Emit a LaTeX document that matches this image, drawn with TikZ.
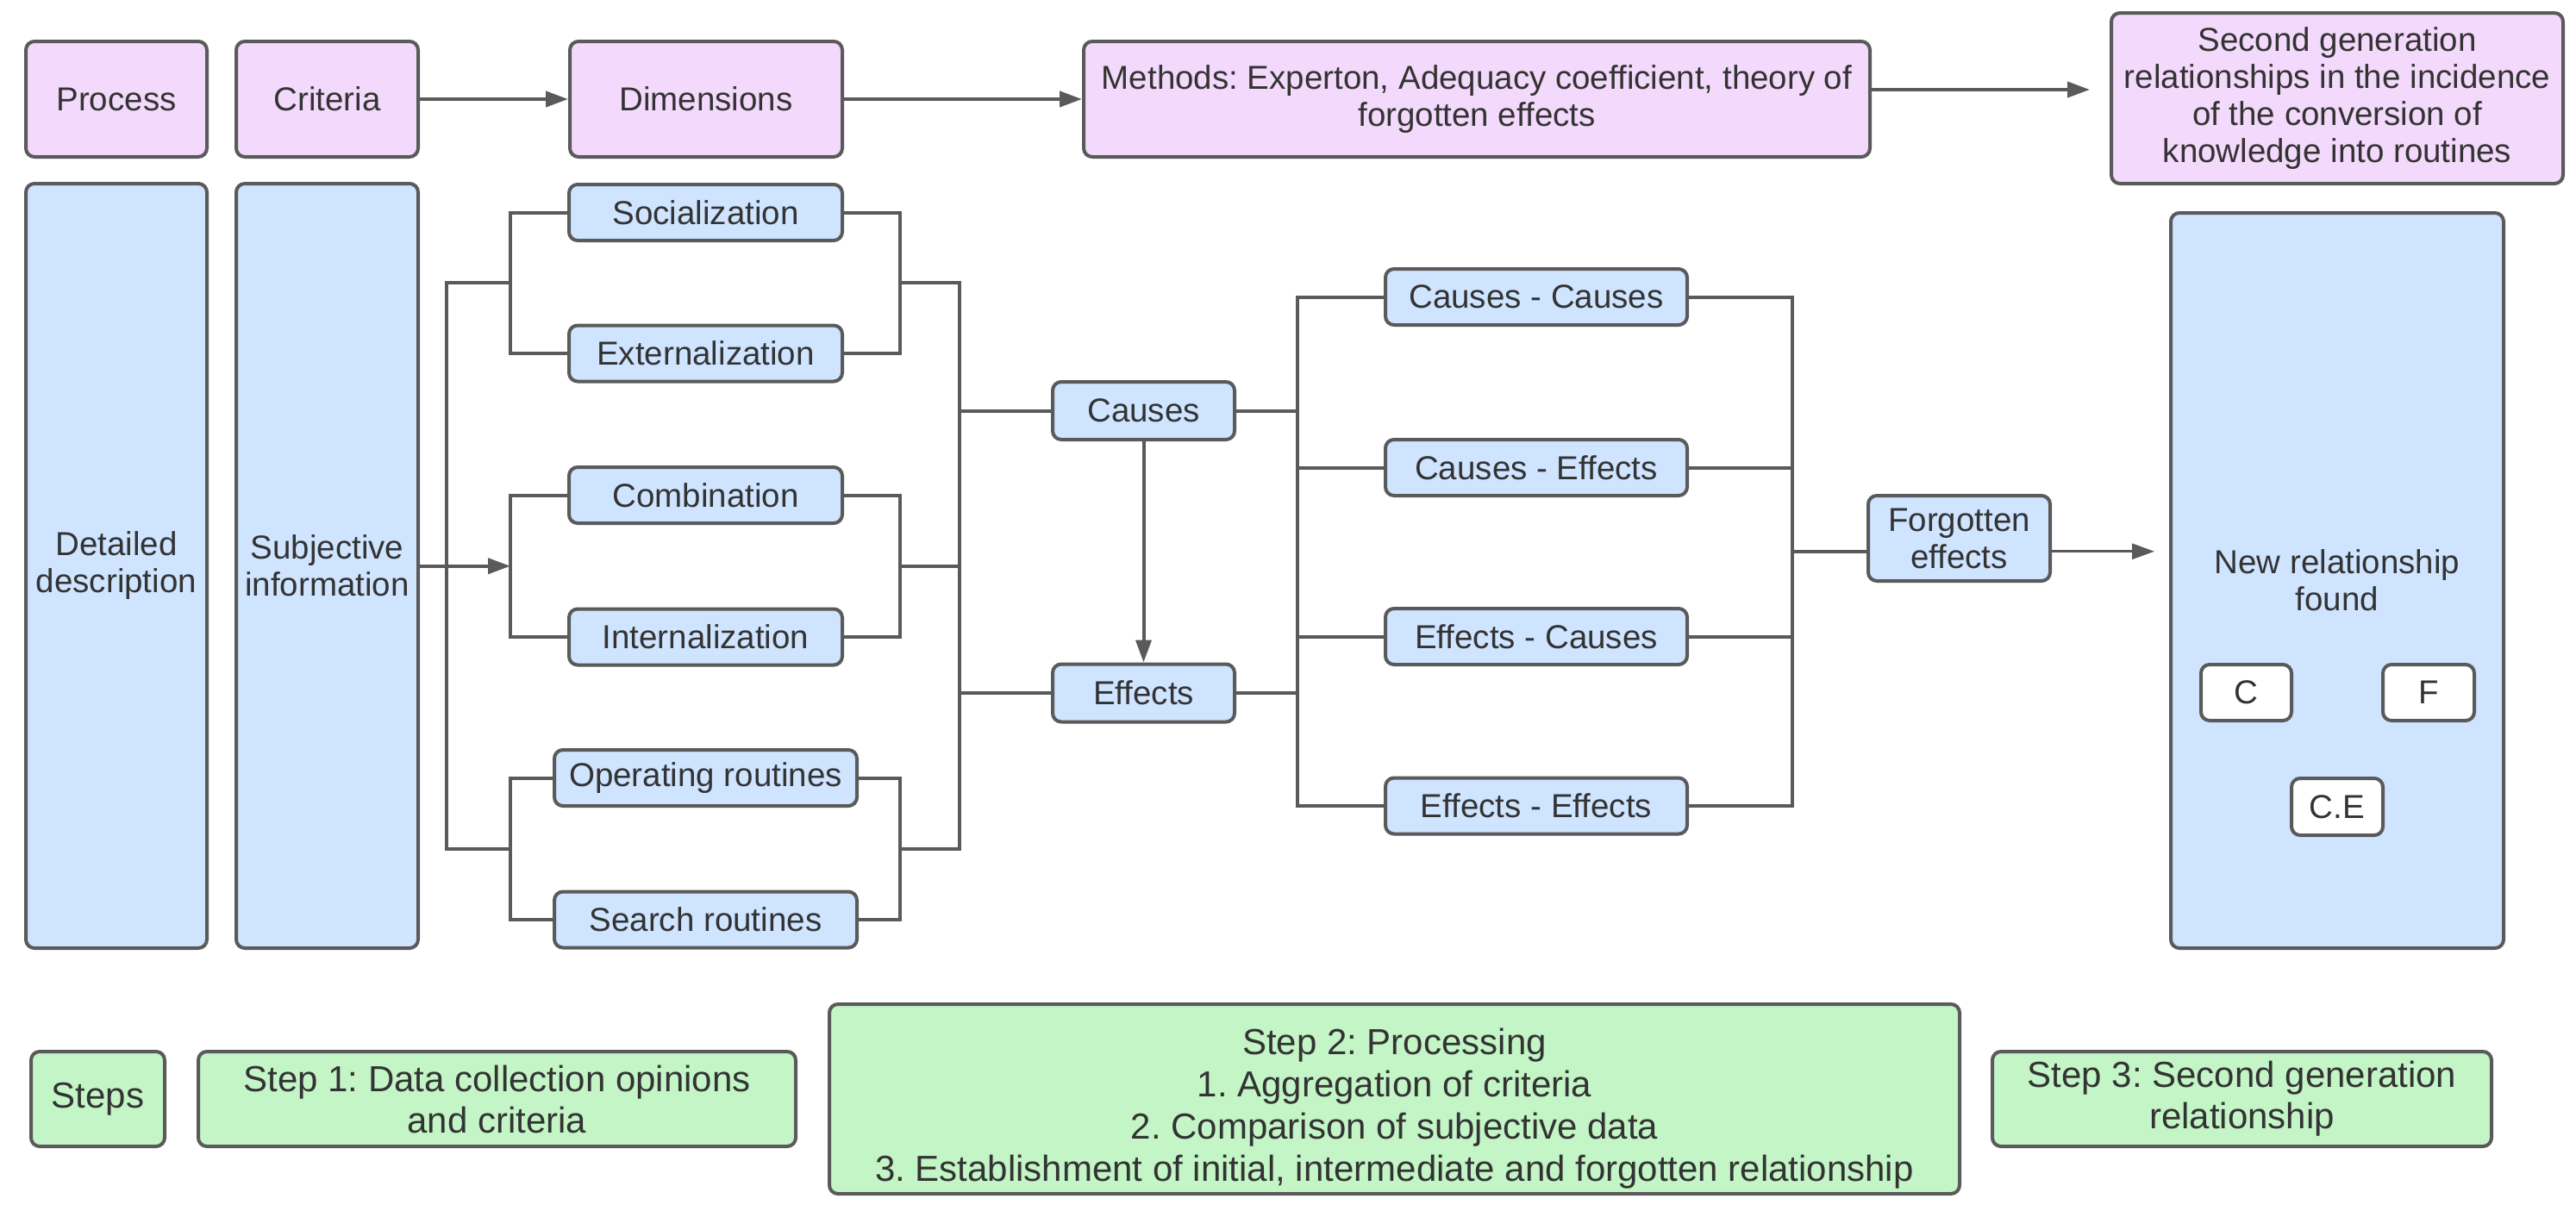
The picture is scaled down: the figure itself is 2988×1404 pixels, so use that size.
\documentclass[tikz,border=0pt]{standalone}
\usepackage{fontspec}
\setmainfont{Liberation Sans}
\usetikzlibrary{arrows.meta,calc}
\definecolor{pinkf}{HTML}{F3D9FB}
\definecolor{bluef}{HTML}{CFE4FF}
\definecolor{greenf}{HTML}{C3F5C6}
\definecolor{edgec}{HTML}{5A5A5A}
\definecolor{txt}{HTML}{333333}
\begin{document}
\frenchspacing
\begin{tikzpicture}[x=0.5pt,y=-0.5pt,
  box/.style={draw=edgec, line width=2pt, rounded corners=5pt, align=center, text=txt,
    font=\fontsize{19.25}{21.5}\selectfont, inner sep=0pt},
  sz/.style 2 args={minimum width={#1*0.5pt}, minimum height={#2*0.5pt}},
  pinkbox/.style={box, fill=pinkf},
  bluebox/.style={box, fill=bluef},
  greenbox/.style={box, fill=greenf, font=\fontsize{21}{24}\selectfont},
  whitebox/.style={box, fill=white},
  conn/.style={draw=edgec, line width=2pt},
  arr/.style={conn, -{Triangle[length=13pt,width=9pt]}},
]
\useasboundingbox[fill=white] (0,0) rectangle (2988,1404);

% top row
\node[pinkbox, sz={210}{134}] (process) at (135,115) {Process};
\node[pinkbox, sz={211}{134}] (criteria) at (379.5,115) {Criteria};
\node[pinkbox, sz={316}{134}] (dimensions) at (819,115) {Dimensions};
\node[pinkbox, sz={912}{134}] (methods) at (1713,115) {Methods: Experton, Adequacy coefficient, theory of\\forgotten effects};
\node[pinkbox, sz={524}{198}] (secondgen) at (2711,114) {Second generation\\relationships in the incidence\\of the conversion of\\knowledge into routines};

% tall boxes
\node[bluebox, sz={210}{887}] (detailed) at (135,656.5) {Detailed\\description};
\node[bluebox, sz={211}{887}] (subjective) at (379.5,656.5) {Subjective\\information};

% dimensions
\node[bluebox, sz={317}{65}] (social) at (818.5,246.5) {Socialization};
\node[bluebox, sz={317}{65}] (extern) at (818.5,410) {Externalization};
\node[bluebox, sz={317}{65}] (combin) at (818.5,574.5) {Combination};
\node[bluebox, sz={317}{65}] (intern) at (818.5,739) {Internalization};
\node[bluebox, sz={351}{65}] (operating) at (818.5,902.5) {Operating routines};
\node[bluebox, sz={351}{65}] (search) at (818.5,1067) {Search routines};

% causes / effects
\node[bluebox, sz={211}{67}] (causes) at (1326.5,476.5) {Causes};
\node[bluebox, sz={211}{67}] (effects) at (1326.5,804) {Effects};
\node[bluebox, sz={350}{65}] (cc) at (1782,344.5) {Causes - Causes};
\node[bluebox, sz={350}{65}] (ce) at (1782,542.5) {Causes - Effects};
\node[bluebox, sz={350}{65}] (ec) at (1782,738.5) {Effects - Causes};
\node[bluebox, sz={350}{65}] (ee) at (1782,935) {Effects - Effects};

\node[bluebox, sz={211}{99}] (forgotten) at (2272.5,624.5) {Forgotten\\effects};
\node[bluebox, sz={386}{853}] (newrel) at (2711,673.5) {};
\node[text=txt, align=center, font=\fontsize{19.25}{21.5}\selectfont] (newreltxt) at (2711,673) {New relationship\\found};
\node[whitebox, sz={105}{65}] (cbox) at (2605.5,803.5) {C};
\node[whitebox, sz={106}{65}] (fbox) at (2817,803.5) {F};
\node[whitebox, sz={106}{66}] (cebox) at (2711,936) {C.E};

% steps
\node[greenbox, sz={155}{110}] (steps) at (113.5,1275) {Steps};
\node[greenbox, sz={693}{110}] (step1) at (576.5,1275) {Step 1: Data collection opinions\\and criteria};
\node[greenbox, sz={1311}{220}] (step2) at (1617.5,1275) {};
\node[text=txt, align=center, font=\fontsize{21}{24.5}\selectfont] (step2txt) at (1617.5,1286) {Step 2: Processing\\1. Aggregation of criteria\\2. Comparison of subjective data\\3. Establishment of initial, intermediate and forgotten relationship};
\node[greenbox, sz={579}{110}] (step3) at (2600.5,1275) {Step 3: Second generation\\relationship};

% top arrows
\draw[arr] (criteria.east) -- (dimensions.west);
\draw[arr] (dimensions.east) -- (methods.west);
\draw[arr, shorten >=11.5pt] ($(methods.east)+(0,-11)$) -- ($(secondgen.west |- methods.east)+(0,-11)$);

% left brackets
\coordinate (ia) at (592,328.25);
\coordinate (ib) at (592,656.75);
\coordinate (ic) at (592,984.75);
\coordinate (oa) at (518,328.25);
\coordinate (oc) at (518,984.75);
\draw[conn] (social.west) -| (ia) |- (extern.west);
\draw[conn] (combin.west) -| (ib) |- (intern.west);
\draw[conn] (operating.west) -| (ic) |- (search.west);
\draw[conn] (ia) -- (oa) -- (oc) -- (ic);
\draw[arr] (subjective.east |- ib) -- (ib);

% right brackets
\coordinate (ra) at (1044,328.25);
\coordinate (rb) at (1044,656.75);
\coordinate (rc) at (1044,984.75);
\coordinate (ra2) at (1113,328.25);
\coordinate (rb2) at (1113,656.75);
\coordinate (rc2) at (1113,984.75);
\draw[conn] (social.east) -| (ra) |- (extern.east);
\draw[conn] (combin.east) -| (rb) |- (intern.east);
\draw[conn] (operating.east) -| (rc) |- (search.east);
\draw[conn] (ra) -- (ra2) -- (rc2) -- (rc);
\draw[conn] (rb) -- (rb2);
\draw[conn] (causes.west) -- (causes.west -| ra2);
\draw[conn] (effects.west) -- (effects.west -| ra2);

% causes -> effects
\draw[arr] (causes.south) -- (effects.north);

% causes/effects bracket
\coordinate (cx) at (1505,0);
\draw[conn] (causes.east) -- (causes.east -| cx);
\draw[conn] (effects.east) -- (effects.east -| cx);
\draw[conn] (cc.west) -| (cx |- ee.west) -- (ee.west);
\draw[conn] (ce.west) -- (ce.west -| cx);
\draw[conn] (ec.west) -- (ec.west -| cx);

% right bracket to forgotten effects
\coordinate (fx) at (2079,0);
\coordinate (fm) at (2079,639.75);
\draw[conn] (cc.east) -| (fx |- ee.east) -- (ee.east);
\draw[conn] (ce.east) -- (ce.east -| fx);
\draw[conn] (ec.east) -- (ec.east -| fx);
\draw[conn] (fm) -- (fm -| forgotten.west);
\draw[arr, line width=1.5pt, shorten >=8.5pt] (forgotten.east |- fm) -- (newrel.west |- fm);
\end{tikzpicture}
\end{document}
